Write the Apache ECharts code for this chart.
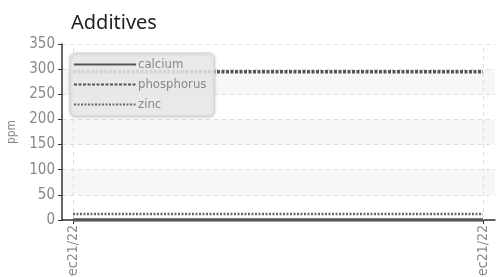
<!DOCTYPE html>
<html>
<head>
<meta charset="utf-8">
<script src="https://cdn.jsdelivr.net/npm/echarts@6/dist/echarts.min.js"></script>
<style>
html, body { margin: 0; padding: 0; background: #fff; }
#chart { width: 503px; height: 277px; }
</style>
</head>
<body>
<div id="chart"></div>
<script>
// data
var dates = ['Dec21/22', 'Dec21/22'];
var calcium = [0, 0];
var phosphorus = [295, 295];
var zinc = [12, 12];
var yTicks = [0, 50, 100, 150, 200, 250, 300, 350];

var font = '"DejaVu Sans Condensed", "Liberation Sans Narrow", Roboto, sans-serif';

// x positions: sample 1, sample 2
var xPos = [];
for (var k = 0; k < dates.length; k++) xPos.push(k + 1);

function pts(arr) {
    var out = [];
    for (var i = 0; i < arr.length; i++) {
        out.push([xPos[i], arr[i]]);
    }
    return out;
}

// vertical grid line at each sample
var vLines = [];
for (var j = 0; j < xPos.length; j++) vLines.push({ xAxis: xPos[j] });

var option = {
    animation: false,
    title: {
        text: 'Additives',
        left: 66,
        top: 8,
        textStyle: { fontSize: 20, fontWeight: 'normal', color: '#222', fontFamily: '"Noto Sans", sans-serif' }
    },
    legend: {
        orient: 'vertical',
        left: 70,
        top: 53,
        padding: [5, 8, 5, 3],
        itemWidth: 62,
        itemHeight: 10,
        itemGap: 7,
        itemStyle: { opacity: 0 },
        backgroundColor: 'rgba(236,236,236,0.85)',
        borderColor: '#d4d4d4',
        borderWidth: 1,
        borderRadius: 5,
        shadowColor: 'rgba(0,0,0,0.2)',
        shadowBlur: 3,
        shadowOffsetY: 1,
        textStyle: { color: '#888', fontSize: 13, fontFamily: font, padding: [0, 0, 0, -3] },
        data: ['calcium', 'phosphorus', 'zinc']
    },
    grid: { left: 62, right: 8, top: 44, bottom: 57, outerBoundsMode: 'none' },
    xAxis: {
        type: 'value',
        min: 0.9732,
        max: 2.0293,
        axisLine: { onZero: false, lineStyle: { color: '#333', width: 1.5 } },
        axisTick: { show: true, customValues: xPos, length: 4, lineStyle: { color: '#333' } },
        axisLabel: {
            customValues: xPos,
            rotate: 90,
            color: '#888',
            fontSize: 14,
            fontFamily: font,
            margin: 5,
            formatter: function (v) { return dates[xPos.indexOf(v)]; }
        },
        splitLine: { show: false }
    },
    yAxis: {
        type: 'value',
        min: 0,
        max: 350,
        interval: 50,
        name: 'ppm',
        nameLocation: 'middle',
        nameGap: 25,
        nameTextStyle: { color: '#888', fontSize: 12, fontFamily: font },
        axisLine: { show: true, onZero: false, lineStyle: { color: '#333', width: 1.5 } },
        axisTick: { show: true, length: 4, lineStyle: { color: '#333' } },
        axisLabel: {
            color: '#888',
            fontSize: 15,
            fontFamily: font,
            margin: 7,
            formatter: function (v) { return yTicks.indexOf(v) >= 0 ? String(v) : ''; }
        },
        splitLine: { show: true, lineStyle: { type: [4, 4], color: '#ddd' } },
        splitArea: { show: true, areaStyle: { color: ['rgba(255,255,255,0)', '#f7f7f7'] } }
    },
    series: [
        {
            name: 'calcium',
            type: 'line',
            data: pts(calcium),
            symbol: 'none',
            z: 3,
            lineStyle: { color: '#555', width: 3.5 },
            itemStyle: { color: '#555' },
            markLine: {
                silent: true,
                symbol: 'none',
                label: { show: false },
                z: 1,
                lineStyle: { color: '#ddd', width: 1, type: [4, 4] },
                data: vLines
            }
        },
        {
            name: 'phosphorus',
            type: 'line',
            data: pts(phosphorus),
            symbol: 'none',
            lineStyle: { color: '#555', width: 3.5, type: [3, 1.5] },
            itemStyle: { color: '#555' }
        },
        {
            name: 'zinc',
            type: 'line',
            data: pts(zinc),
            symbol: 'none',
            lineStyle: { color: '#666', width: 2.5, type: [2, 1.5] },
            itemStyle: { color: '#666' }
        }
    ]
};

var myChart = echarts.init(document.getElementById('chart'));
myChart.setOption(option);
</script>
</body>
</html>
